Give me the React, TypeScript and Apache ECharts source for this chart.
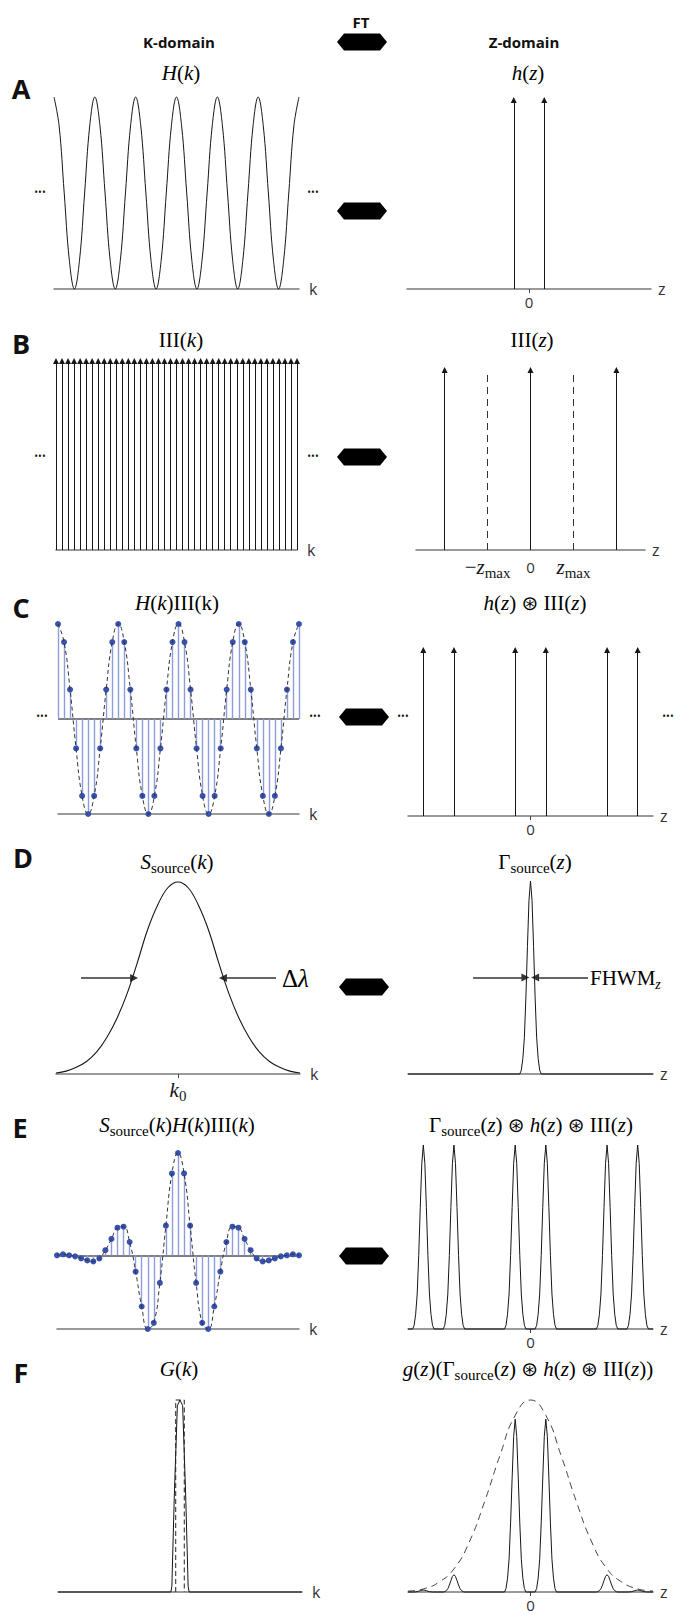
import React, { useEffect, useRef } from "react";
import * as echarts from "echarts";

// ---------------- DATA ----------------
// A: H(k), 8 samples per fringe period, 6 periods
const hKStep = 0.125;
const hK = [
  1, 0.85, 0.5, 0.15, 0, 0.15, 0.5, 0.85,
  1, 0.85, 0.5, 0.15, 0, 0.15, 0.5, 0.85,
  1, 0.85, 0.5, 0.15, 0, 0.15, 0.5, 0.85,
  1, 0.85, 0.5, 0.15, 0, 0.15, 0.5, 0.85,
  1, 0.85, 0.5, 0.15, 0, 0.15, 0.5, 0.85,
  1, 0.85, 0.5, 0.15, 0, 0.15, 0.5, 0.85,
  1,
];
const hZDeltas = [-1, 1];
// B: sampling comb in k (41 teeth) and in z
const combK = [
  0, 1, 2, 3, 4, 5, 6, 7, 8, 9, 10, 11, 12, 13, 14, 15, 16, 17, 18, 19, 20,
  21, 22, 23, 24, 25, 26, 27, 28, 29, 30, 31, 32, 33, 34, 35, 36, 37, 38, 39, 40,
];
const combZ = [-6, 0, 6];
const zMaxLines = [-3, 3];
// C: sampled H(k) (centered), 41 samples
const sampledH = [
  1, 0.81, 0.31, -0.31, -0.81, -1, -0.81, -0.31, 0.31, 0.81,
  1, 0.81, 0.31, -0.31, -0.81, -1, -0.81, -0.31, 0.31, 0.81,
  1, 0.81, 0.31, -0.31, -0.81, -1, -0.81, -0.31, 0.31, 0.81,
  1, 0.81, 0.31, -0.31, -0.81, -1, -0.81, -0.31, 0.31, 0.81,
  1,
];
const replicaZ = [-7, -5, -1, 1, 5, 7];
// D: source spectrum S(k) and coherence function peak
const sK = [-6, -5.5, -5, -4.5, -4, -3.5, -3, -2.5, -2, -1.5, -1, -0.5, 0, 0.5, 1, 1.5, 2, 2.5, 3, 3.5, 4, 4.5, 5, 5.5, 6];
const sVal = [0.005, 0.015, 0.035, 0.065, 0.115, 0.19, 0.29, 0.42, 0.58, 0.75, 0.88, 0.97, 1, 0.97, 0.88, 0.75, 0.58, 0.42, 0.29, 0.19, 0.115, 0.065, 0.035, 0.015, 0.005];
const fwhmK = [[-4.77, -2.16], [4.82, 2.21]];
const fwhmZ = [[-3.75, -0.33], [3.75, 0.3]];
const gammaOffsets = [-0.7, -0.6, -0.5, -0.4, -0.3, -0.2, -0.1, 0, 0.1, 0.2, 0.3, 0.4, 0.5, 0.6, 0.7];
const gammaProfile = [0, 0.02, 0.08, 0.19, 0.4, 0.66, 0.9, 1, 0.9, 0.66, 0.4, 0.19, 0.08, 0.02, 0];
// E: sampled spectral interferogram
const eVals = [
  0, 0.01, 0, -0.01, -0.03, -0.05, -0.06, -0.03, 0.05, 0.16, 0.27, 0.28, 0.13, -0.16, -0.5, -0.72, -0.66, -0.27, 0.29, 0.8,
  1,
  0.8, 0.29, -0.27, -0.66, -0.72, -0.5, -0.16, 0.13, 0.28, 0.27, 0.16, 0.05, -0.03, -0.06, -0.05, -0.03, -0.01, 0, 0.01, 0,
];
const ePeakHeights = [1, 1, 1, 1, 1, 1];
// F: detector window G(k) and sensitivity roll-off g(z)
const gOffsets = [-0.45, -0.4, -0.28, -0.13, 0, 0.13, 0.28, 0.4, 0.45];
const gVals = [0, 0.03, 0.5, 0.97, 1, 0.97, 0.5, 0.03, 0];
const rectK = [-0.21, 0.21];
const fPeakHeights = [0.01, 0.09, 0.9, 0.9, 0.09, 0.01];
const envZ = [-8, -7, -6, -5, -4, -3, -2, -1, 0, 1, 2, 3, 4, 5, 6, 7, 8];
const envVals = [0.005, 0.016, 0.05, 0.12, 0.26, 0.47, 0.71, 0.92, 1, 0.92, 0.71, 0.47, 0.26, 0.12, 0.05, 0.016, 0.005];

// ---------------- STYLE ----------------
const SERIF = "'Liberation Serif', 'DejaVu Serif', serif";
const SANS = "'Open Sans', 'Noto Sans', sans-serif";
const AXIS = "#7a7a7a";
const INK = "#161616";
const STEM = "#8d9dda";
const DOT = "#3852b2";

const FS = 21;
const rich = {
  i: { fontFamily: SERIF, fontStyle: "italic", fontSize: FS, lineHeight: 26, verticalAlign: "middle", color: INK },
  n: { fontFamily: SERIF, fontSize: FS, lineHeight: 26, verticalAlign: "middle", color: INK },
  s: { fontFamily: SERIF, fontSize: 15, lineHeight: 13, verticalAlign: "bottom", color: INK },
  z: { fontFamily: SERIF, fontStyle: "italic", fontSize: 14, lineHeight: 13, verticalAlign: "bottom", color: INK },
  o: { fontFamily: "'DejaVu Sans', sans-serif", fontSize: 20, lineHeight: 26, verticalAlign: "middle", color: INK },
};

const grids = [
  { left: 54, top: 97, width: 245, height: 192 },
  { left: 407, top: 100, width: 244, height: 189 },
  { left: 56, top: 361, width: 241, height: 189 },
  { left: 416, top: 370, width: 229, height: 180 },
  { left: 58, top: 624, width: 241, height: 190 },
  { left: 408, top: 650, width: 245, height: 166 },
  { left: 56, top: 882, width: 244, height: 192 },
  { left: 408, top: 881, width: 245, height: 193 },
  { left: 57, top: 1153, width: 242, height: 176 },
  { left: 408, top: 1145, width: 245, height: 184 },
  { left: 58, top: 1400, width: 244, height: 192 },
  { left: 408, top: 1400, width: 245, height: 192 },
];

function xAx(g: number, min: number, max: number, name: string, extra: any = {}) {
  return {
    type: "value",
    gridIndex: g,
    min,
    max,
    name,
    nameLocation: "end",
    nameGap: name === "k" ? 10 : 7,
    nameTextStyle: { fontFamily: SANS, fontSize: 16, color: "#333", verticalAlign: "middle" },
    axisLine: { show: true, onZero: false, lineStyle: { color: AXIS, width: 1.5 } },
    axisTick: { show: false },
    axisLabel: { show: false },
    splitLine: { show: false },
    ...extra,
  };
}
function yAx(g: number, min: number, max: number) {
  return { type: "value", gridIndex: g, min, max, show: false, splitLine: { show: false } };
}
const zeroTick = {
  axisTick: { show: true, customValues: [0], length: 4, lineStyle: { color: "#444", width: 1 } },
  axisLabel: { show: true, customValues: [0], fontFamily: SANS, fontSize: 15, color: "#333", margin: 5 },
};

function line(g: number, data: number[][], opts: any = {}) {
  return {
    type: "line",
    xAxisIndex: g,
    yAxisIndex: g,
    data,
    symbol: "none",
    showSymbol: false,
    silent: true,
    clip: false,
    smooth: opts.smooth ?? false,
    lineStyle: { color: opts.color ?? INK, width: opts.width ?? 1, type: opts.type ?? "solid" },
  };
}
function segs(g: number, coords: number[][][], opts: any = {}) {
  return {
    type: "lines",
    coordinateSystem: "cartesian2d",
    xAxisIndex: g,
    yAxisIndex: g,
    silent: true,
    clip: false,
    symbol: opts.arrow ? ["none", "triangle"] : ["none", "none"],
    symbolSize: opts.size ?? 6,
    lineStyle: { color: opts.color ?? INK, width: opts.width ?? 1, opacity: 1, type: opts.type ?? "solid", curveness: 0 },
    data: coords.map((c) => ({ coords: c })),
  };
}
function dots(g: number, data: number[][]) {
  return { type: "scatter", xAxisIndex: g, yAxisIndex: g, data, symbolSize: 6, silent: true, itemStyle: { color: DOT, opacity: 1 } };
}
function peakTrain(centers: number[], heights: number[]) {
  const pts: number[][] = [[-8, 0]];
  centers.forEach((c, j) => gammaOffsets.forEach((o, m) => pts.push([c + o, heights[j] * gammaProfile[m]])));
  pts.push([8, 0]);
  return pts;
}
const arrowsAt = (xs: number[], top = 1) => xs.map((x) => [[x, 0], [x, top]]);

function hexagon(cx: number, cy: number) {
  return {
    type: "polygon",
    silent: true,
    shape: { points: [[cx - 25, cy], [cx - 18, cy - 8.5], [cx + 18, cy - 8.5], [cx + 25, cy], [cx + 18, cy + 8.5], [cx - 18, cy + 8.5]] },
    style: { fill: "#000" },
  };
}
function mtext(x: number, y: number, text: string, align = "center") {
  return { type: "text", silent: true, style: { x, y, text, align, verticalAlign: "middle", rich } };
}
function stext(x: number, y: number, text: string, size: number, bold = true) {
  return {
    type: "text",
    silent: true,
    style: { x, y, text, align: "center", verticalAlign: "middle", fontFamily: SANS, fontSize: size, fontWeight: bold ? "bold" : "normal", fill: "#111" },
  };
}
const ell = (x: number, y: number) => ({
  type: "text",
  silent: true,
  style: { x, y, text: "•••", align: "center", verticalAlign: "middle", fontFamily: SANS, fontSize: 10, fill: "#111" },
});

export default function App() {
  const ref = useRef<HTMLDivElement>(null);
  useEffect(() => {
    if (!ref.current) return;
    const chart = echarts.init(ref.current, undefined, { renderer: "svg" });
    const yMinE = Math.min(...eVals);

    const xAxis = [
      xAx(0, 0, 6, "k"),
      xAx(1, -8, 8, "z", zeroTick),
      xAx(2, 0, 40, "k"),
      xAx(3, -8, 8, "z", {
        axisLabel: {
          show: true,
          customValues: [-3, 0, 3],
          margin: 4,
          formatter: (v: number) => (v === 0 ? "{t|0}" : v < 0 ? "{n|−}{i|z}{s|max}" : "{i|z}{s|max}"),
          rich: { ...rich, t: { fontFamily: SANS, fontSize: 15, color: "#333", lineHeight: 26, verticalAlign: "middle" } },
        },
      }),
      xAx(4, 0, 40, "k"),
      xAx(5, -8, 8, "z", zeroTick),
      xAx(6, -6, 6, "k", {
        axisTick: { show: true, customValues: [0], length: 4, lineStyle: { color: "#444", width: 1 } },
        axisLabel: { show: true, customValues: [0], margin: 3, formatter: () => "{i|k}{s|0}", rich },
      }),
      xAx(7, -8, 8, "z"),
      xAx(8, 0, 40, "k"),
      xAx(9, -8, 8, "z", zeroTick),
      xAx(10, -6, 6, "k"),
      xAx(11, -8, 8, "z", zeroTick),
    ];
    const yAxis = [
      yAx(0, 0, 1), yAx(1, 0, 1), yAx(2, 0, 1), yAx(3, 0, 1),
      yAx(4, -1, 1), yAx(5, 0, 1), yAx(6, 0, 1), yAx(7, 0, 1),
      yAx(8, yMinE, 1), yAx(9, 0, 1), yAx(10, 0, 1), yAx(11, 0, 1),
    ];

    const series: any[] = [
      // A
      line(0, hK.map((v, i) => [i * hKStep, v]), { smooth: 0.4 }),
      segs(1, arrowsAt(hZDeltas), { arrow: true }),
      // B
      segs(2, arrowsAt(combK), { arrow: true }),
      segs(3, arrowsAt(combZ), { arrow: true }),
      segs(3, arrowsAt(zMaxLines), { type: [7, 5], color: "#333" }),
      // C
      segs(4, [[[0, 0], [40, 0]]], { color: "#555", width: 1.5 }),
      segs(4, sampledH.map((v, i) => [[i, 0], [i, v]]), { color: STEM, width: 1.4 }),
      line(4, sampledH.map((v, i) => [i, v]), { smooth: 0.5, type: [4, 3], color: "#333" }),
      dots(4, sampledH.map((v, i) => [i, v])),
      segs(5, arrowsAt(replicaZ), { arrow: true }),
      // D
      line(6, sK.map((k, i) => [k, sVal[i]]), { smooth: 0.4, width: 1.1 }),
      segs(6, fwhmK.map((p) => [[p[0], 0.5], [p[1], 0.5]]), { arrow: true, width: 1.5, color: "#333", size: 8 }),
      line(7, peakTrain([0], [1]), { width: 1 }),
      segs(7, fwhmZ.map((p) => [[p[0], 0.5], [p[1], 0.5]]), { arrow: true, width: 1.5, color: "#333", size: 8 }),
      // E
      segs(8, [[[0, 0], [40, 0]]], { color: "#555", width: 1.5 }),
      segs(8, eVals.map((v, i) => [[i, 0], [i, v]]), { color: STEM, width: 1.4 }),
      line(8, eVals.map((v, i) => [i, v]), { smooth: 0.5, type: [4, 3], color: "#333" }),
      dots(8, eVals.map((v, i) => [i, v])),
      line(9, peakTrain(replicaZ, ePeakHeights), { width: 1 }),
      // F
      line(10, [[-6, 0], ...gOffsets.map((o, i) => [o, gVals[i]]), [6, 0]], { width: 1 }),
      line(10, [[rectK[0], 0], [rectK[0], 1], [rectK[1], 1], [rectK[1], 0]], { type: [5, 3], color: "#222" }),
      line(11, envZ.map((z, i) => [z, envVals[i]]), { smooth: 0.5, type: [7, 5], color: "#444" }),
      line(11, peakTrain(replicaZ, fPeakHeights), { width: 1 }),
    ];

    const graphic: any[] = [
      stext(361, 22, "FT", 15),
      stext(179, 42, "K-domain", 15),
      stext(524, 42, "Z-domain", 15),
      hexagon(362, 42),
      hexagon(362, 211),
      hexagon(362, 457),
      hexagon(364, 717),
      hexagon(364, 987),
      hexagon(364, 1256),
      stext(21, 88, "A", 27),
      stext(21, 343, "B", 27),
      stext(21, 607, "C", 27),
      stext(23, 857, "D", 27),
      stext(20, 1127, "E", 27),
      stext(21, 1372, "F", 27),
      ell(40, 192), ell(313, 192),
      ell(40, 456), ell(313, 456),
      ell(42, 716), ell(315, 716), ell(403, 716), ell(668, 716),
      mtext(181, 73, "{i|H}{n|(}{i|k}{n|)}"),
      mtext(528, 73, "{i|h}{n|(}{i|z}{n|)}"),
      mtext(181, 340, "{n|III(}{i|k}{n|)}"),
      mtext(532, 340, "{n|III(}{i|z}{n|)}"),
      mtext(177, 603, "{i|H}{n|(}{i|k}{n|)III(k)}"),
      mtext(535, 603, "{i|h}{n|(}{i|z}{n|) }{o|⊛}{n| III(}{i|z}{n|)}"),
      mtext(177, 862, "{i|S}{s|source}{n|(}{i|k}{n|)}"),
      mtext(535, 862, "{n|Γ}{s|source}{n|(}{i|z}{n|)}"),
      mtext(177, 1125, "{i|S}{s|source}{n|(}{i|k}{n|)}{i|H}{n|(}{i|k}{n|)III(}{i|k}{n|)}"),
      mtext(531, 1125, "{n|Γ}{s|source}{n|(}{i|z}{n|) }{o|⊛}{n| }{i|h}{n|(}{i|z}{n|) }{o|⊛}{n| III(}{i|z}{n|)}"),
      mtext(179, 1369, "{i|G}{n|(}{i|k}{n|)}"),
      mtext(528, 1369, "{i|g}{n|(}{i|z}{n|)(Γ}{s|source}{n|(}{i|z}{n|) }{o|⊛}{n| }{i|h}{n|(}{i|z}{n|) }{o|⊛}{n| III(}{i|z}{n|))}"),
      {
        type: "text",
        silent: true,
        style: {
          x: 282, y: 978, text: "{d|Δ}{l|λ}", align: "left", verticalAlign: "middle",
          rich: {
            d: { fontFamily: SERIF, fontSize: 25, color: INK, lineHeight: 28, verticalAlign: "middle" },
            l: { fontFamily: SERIF, fontStyle: "italic", fontSize: 25, color: INK, lineHeight: 28, verticalAlign: "middle" },
          },
        },
      },
      mtext(590, 978, "{n|FHWM}{z|z}", "left"),
    ];

    chart.setOption({
      animation: false,
      backgroundColor: "#fff",
      grid: grids.map((g) => ({ ...g, containLabel: false })),
      xAxis,
      yAxis,
      series,
      graphic,
    });
    return () => chart.dispose();
  }, []);
  return <div ref={ref} style={{ position: "absolute", left: 0, top: 0, width: 676, height: 1614 }} />;
}
